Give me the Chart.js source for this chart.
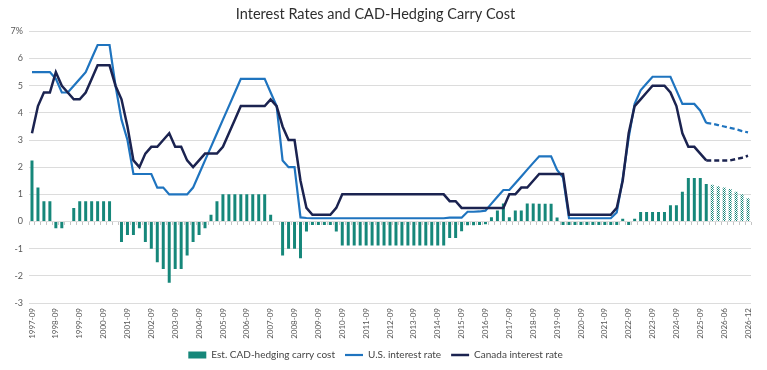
<!DOCTYPE html>
<html>
<head>
<meta charset="utf-8">
<script src="https://cdn.jsdelivr.net/npm/chart.js@4.4.1/dist/chart.umd.min.js"></script>
<style>
  html, body { margin: 0; padding: 0; background: #fff; }
  #wrap { width: 767px; height: 370px; }
</style>
</head>
<body>
<div id="wrap"><canvas id="rates-chart" width="767" height="370"></canvas></div>
<script>
// Quarter-end dates, then the forecast points
const quarters = [
    '1997-09', '1997-12',
    '1998-03', '1998-06', '1998-09', '1998-12',
    '1999-03', '1999-06', '1999-09', '1999-12',
    '2000-03', '2000-06', '2000-09', '2000-12',
    '2001-03', '2001-06', '2001-09', '2001-12',
    '2002-03', '2002-06', '2002-09', '2002-12',
    '2003-03', '2003-06', '2003-09', '2003-12',
    '2004-03', '2004-06', '2004-09', '2004-12',
    '2005-03', '2005-06', '2005-09', '2005-12',
    '2006-03', '2006-06', '2006-09', '2006-12',
    '2007-03', '2007-06', '2007-09', '2007-12',
    '2008-03', '2008-06', '2008-09', '2008-12',
    '2009-03', '2009-06', '2009-09', '2009-12',
    '2010-03', '2010-06', '2010-09', '2010-12',
    '2011-03', '2011-06', '2011-09', '2011-12',
    '2012-03', '2012-06', '2012-09', '2012-12',
    '2013-03', '2013-06', '2013-09', '2013-12',
    '2014-03', '2014-06', '2014-09', '2014-12',
    '2015-03', '2015-06', '2015-09', '2015-12',
    '2016-03', '2016-06', '2016-09', '2016-12',
    '2017-03', '2017-06', '2017-09', '2017-12',
    '2018-03', '2018-06', '2018-09', '2018-12',
    '2019-03', '2019-06', '2019-09', '2019-12',
    '2020-03', '2020-06', '2020-09', '2020-12',
    '2021-03', '2021-06', '2021-09', '2021-12',
    '2022-03', '2022-06', '2022-09', '2022-12',
    '2023-03', '2023-06', '2023-09', '2023-12',
    '2024-03', '2024-06', '2024-09', '2024-12',
    '2025-03', '2025-06', '2025-09', '2025-12'
];
const forecastDates = ['2026-02', '2026-04', '2026-06', '2026-07', '2026-09', '2026-10', '2026-12'];

// Labels that are actually printed on the x axis
const tickLabels = [
    '1997-09', '1998-09', '1999-09', '2000-09', '2001-09', '2002-09', '2003-09', '2004-09',
    '2005-09', '2006-09', '2007-09', '2008-09', '2009-09', '2010-09', '2011-09', '2012-09',
    '2013-09', '2014-09', '2015-09', '2016-09', '2017-09', '2018-09', '2019-09', '2020-09',
    '2021-09', '2022-09', '2023-09', '2024-09', '2025-09', '2026-06', '2026-12'
];

// Est. CAD-hedging carry cost (%)
const carryCost = [
    2.25, 1.25, 0.75, 0.75, -0.25, -0.25, 0, 0.5, 0.75, 0.75,
    0.75, 0.75, 0.75, 0.75, 0, -0.75, -0.5, -0.5, -0.25, -0.75,
    -1.0, -1.5, -1.75, -2.25, -1.75, -1.75, -1.25, -0.75, -0.5, -0.25,
    0.25, 0.75, 1.0, 1.0, 1.0, 1.0, 1.0, 1.0, 1.0, 1.0,
    0.25, 0, -1.25, -1.0, -1.0, -1.35, -0.37, -0.13, -0.13, -0.13,
    -0.13, -0.37, -0.88, -0.88, -0.88, -0.88, -0.88, -0.88, -0.88, -0.88,
    -0.88, -0.88, -0.88, -0.88, -0.88, -0.88, -0.88, -0.88, -0.88, -0.88,
    -0.61, -0.61, -0.36, -0.14, -0.14, -0.13, -0.1, 0.16, 0.41, 0.66,
    0.16, 0.41, 0.41, 0.66, 0.66, 0.65, 0.65, 0.65, 0.15, -0.13,
    -0.13, -0.13, -0.13, -0.13, -0.13, -0.13, -0.13, -0.13, -0.13, 0.1,
    -0.13, 0.1, 0.35, 0.35, 0.35, 0.35, 0.35, 0.6, 0.6, 1.1,
    1.6, 1.6, 1.6, 1.38, 1.35, 1.3, 1.25, 1.2, 1.1, 1.0,
    0.86
];

// U.S. interest rate (%)
const usRate = [
    5.5, 5.5, 5.5, 5.5, 5.25, 4.75, 4.75, 5.0, 5.25, 5.5,
    6.0, 6.5, 6.5, 6.5, 5.0, 3.75, 3.0, 1.75, 1.75, 1.75,
    1.75, 1.25, 1.25, 1.0, 1.0, 1.0, 1.0, 1.25, 1.75, 2.25,
    2.75, 3.25, 3.75, 4.25, 4.75, 5.25, 5.25, 5.25, 5.25, 5.25,
    4.75, 4.25, 2.25, 2.0, 2.0, 0.15, 0.13, 0.12, 0.12, 0.12,
    0.12, 0.12, 0.12, 0.12, 0.12, 0.12, 0.12, 0.12, 0.12, 0.12,
    0.12, 0.12, 0.12, 0.12, 0.12, 0.12, 0.12, 0.12, 0.12, 0.12,
    0.14, 0.14, 0.14, 0.36, 0.36, 0.37, 0.4, 0.66, 0.91, 1.16,
    1.16, 1.41, 1.66, 1.91, 2.16, 2.4, 2.4, 2.4, 1.9, 1.62,
    0.12, 0.12, 0.12, 0.12, 0.12, 0.12, 0.12, 0.12, 0.33, 1.58,
    3.08, 4.33, 4.83, 5.08, 5.33, 5.33, 5.33, 5.33, 4.83, 4.33,
    4.33, 4.33, 4.08, 3.63, 3.6, 3.55, 3.5, 3.45, 3.4, 3.33,
    3.28
];

// Canada interest rate (%)
const canadaRate = [
    3.25, 4.25, 4.75, 4.75, 5.5, 5.0, 4.75, 4.5, 4.5, 4.75,
    5.25, 5.75, 5.75, 5.75, 5.0, 4.5, 3.5, 2.25, 2.0, 2.5,
    2.75, 2.75, 3.0, 3.25, 2.75, 2.75, 2.25, 2.0, 2.25, 2.5,
    2.5, 2.5, 2.75, 3.25, 3.75, 4.25, 4.25, 4.25, 4.25, 4.25,
    4.5, 4.25, 3.5, 3.0, 3.0, 1.5, 0.5, 0.25, 0.25, 0.25,
    0.25, 0.5, 1.0, 1.0, 1.0, 1.0, 1.0, 1.0, 1.0, 1.0,
    1.0, 1.0, 1.0, 1.0, 1.0, 1.0, 1.0, 1.0, 1.0, 1.0,
    0.75, 0.75, 0.5, 0.5, 0.5, 0.5, 0.5, 0.5, 0.5, 0.5,
    1.0, 1.0, 1.25, 1.25, 1.5, 1.75, 1.75, 1.75, 1.75, 1.75,
    0.25, 0.25, 0.25, 0.25, 0.25, 0.25, 0.25, 0.25, 0.5, 1.5,
    3.25, 4.25, 4.5, 4.75, 5.0, 5.0, 5.0, 4.75, 4.25, 3.25,
    2.75, 2.75, 2.5, 2.25, 2.25, 2.25, 2.25, 2.25, 2.3, 2.35,
    2.42
];

const labels = quarters.concat(forecastDates);
const lastActual = quarters.length - 1;      // lines turn dashed after this point
const firstForecastBar = quarters.length;    // bars turn hatched from here

const TEAL = '#16877a';
const BLUE = '#1f74bf';
const NAVY = '#1b2350';

// Dotted fill for the forecast bars
function makePattern() {
    const c = document.createElement('canvas');
    c.width = 2;
    c.height = 2;
    const g = c.getContext('2d');
    g.fillStyle = '#ffffff';
    g.fillRect(0, 0, 2, 2);
    g.fillStyle = TEAL;
    g.fillRect(0, 0, 1, 1);
    g.fillRect(1, 1, 1, 1);
    return g.createPattern(c, 'repeat');
}

document.addEventListener('DOMContentLoaded', function() {
    const ctx = document.getElementById('rates-chart').getContext('2d');
    const hatch = makePattern();
    const font = "'Lato', 'Open Sans', sans-serif";

    const dashAfterActual = c => c.p0DataIndex >= lastActual ? [5, 3] : undefined;

    new Chart(ctx, {
        type: 'bar',
        data: {
            labels: labels,
            datasets: [{
                label: 'Est. CAD-hedging carry cost',
                data: carryCost,
                backgroundColor: c => c.dataIndex >= firstForecastBar ? hatch : TEAL,
                borderWidth: 0,
                categoryPercentage: 1,
                barPercentage: 0.5,
                pointStyle: 'rect',
                order: 3
            }, {
                type: 'line',
                label: 'U.S. interest rate',
                data: usRate,
                borderColor: BLUE,
                backgroundColor: BLUE,
                borderWidth: 2.2,
                pointRadius: 0,
                tension: 0,
                pointStyle: 'line',
                segment: { borderDash: dashAfterActual },
                order: 2
            }, {
                type: 'line',
                label: 'Canada interest rate',
                data: canadaRate,
                borderColor: NAVY,
                backgroundColor: NAVY,
                borderWidth: 2.5,
                pointRadius: 0,
                tension: 0,
                pointStyle: 'line',
                segment: { borderDash: dashAfterActual },
                order: 1
            }]
        },
        options: {
            responsive: false,
            animation: false,
            layout: {
                padding: { left: 0, right: 16, top: 0, bottom: 0 }
            },
            plugins: {
                title: {
                    display: true,
                    text: 'Interest Rates and CAD-Hedging Carry Cost',
                    color: '#2e2e2e',
                    font: { family: font, size: 14.5, weight: 'normal' },
                    padding: { top: 6, bottom: 8 }
                },
                legend: {
                    position: 'bottom',
                    labels: {
                        usePointStyle: true,
                        pointStyleWidth: 18,
                        boxHeight: 7,
                        color: '#444',
                        padding: 10,
                        font: { family: font, size: 10 },
                        sort: (a, b) => a.datasetIndex - b.datasetIndex
                    }
                },
                tooltip: { enabled: false }
            },
            scales: {
                x: {
                    type: 'category',
                    offset: true,
                    grid: { display: false, drawTicks: false, offset: true },
                    border: { display: false },
                    ticks: {
                        autoSkip: false,
                        minRotation: 90,
                        maxRotation: 90,
                        padding: 5,
                        color: '#595959',
                        font: { family: font, size: 8 },
                        callback: function(value) {
                            const lab = this.getLabelForValue(value);
                            return tickLabels.includes(lab) ? lab : null;
                        }
                    },
                    afterFit: scale => { scale.height = 37; }
                },
                // tick marks along the zero line
                x0: {
                    type: 'category',
                    position: { y: 0 },
                    offset: true,
                    grid: {
                        offset: true,
                        drawOnChartArea: false,
                        drawTicks: true,
                        tickLength: 3,
                        color: '#c4c4c4'
                    },
                    border: { display: false },
                    ticks: { display: false, autoSkip: false }
                },
                y: {
                    min: -3,
                    max: 7,
                    grid: { color: '#dcdcdc', lineWidth: 1, drawTicks: false },
                    border: { display: false },
                    ticks: {
                        stepSize: 1,
                        padding: 6,
                        color: '#595959',
                        font: { family: font, size: 9 },
                        callback: v => v === 7 ? '7%' : v
                    },
                    afterFit: scale => { scale.width = 29; }
                }
            }
        }
    });
});
</script>
</body>
</html>
